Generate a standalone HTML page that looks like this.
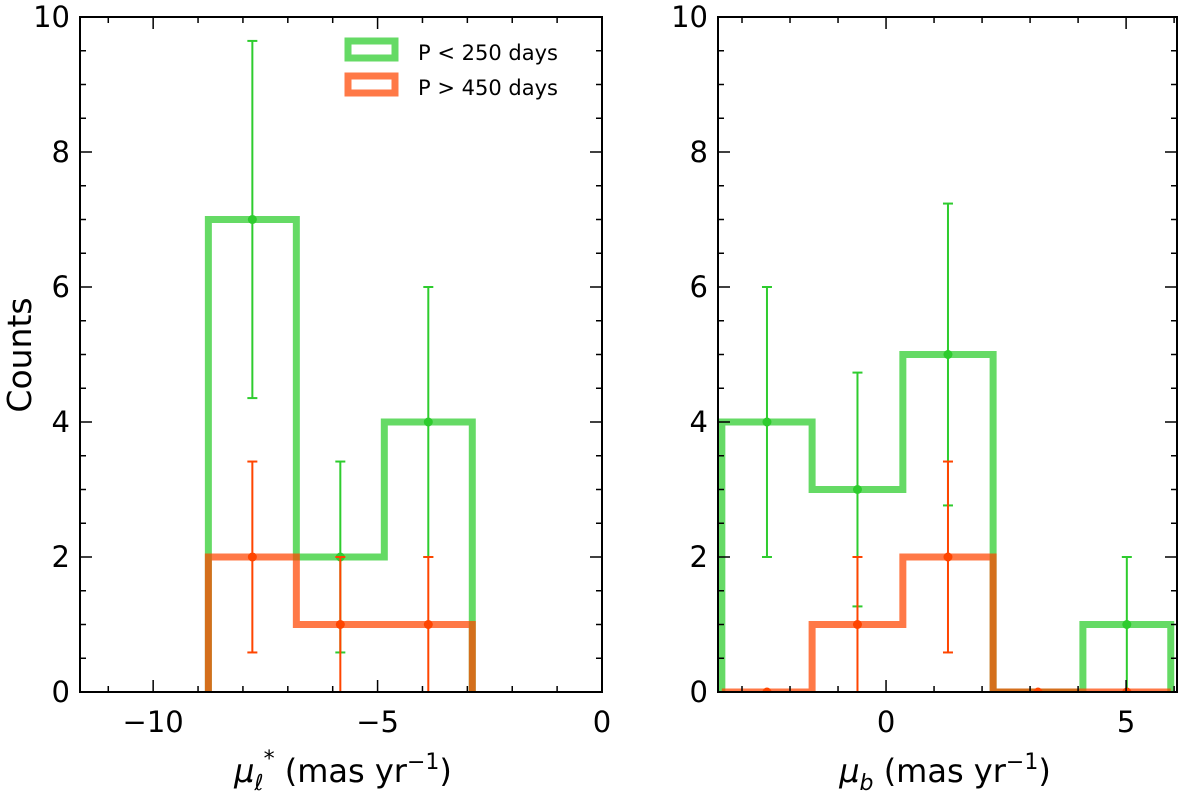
<!DOCTYPE html>
<html><head><meta charset="utf-8">
<style>
html,body{margin:0;padding:0;background:#fff;}
svg{display:block;font-family:"DejaVu Sans","Liberation Sans",sans-serif;}
</style></head>
<body>
<svg id="chart" width="1200" height="799"></svg>
<script>
// Left panel data
const leftEdges = [-8.77, -6.81, -4.85, -2.89];
const leftGreen = [7, 2, 4];
const leftOrange = [2, 1, 1];
const leftXTicks = [-10, -5, 0];
// Right panel data
const rightEdges = [-3.42, -1.54, 0.35, 2.23, 4.1, 5.93];
const rightGreen = [4, 3, 5, 0, 1];
const rightOrange = [0, 1, 2, 0, 0];
const rightXTicks = [0, 5];
const yTicks = [0, 2, 4, 6, 8, 10];

const NS = "http://www.w3.org/2000/svg";
const svg = document.getElementById("chart");
function mk(tag, attrs, parent) {
  const e = document.createElementNS(NS, tag);
  for (const k in attrs) e.setAttribute(k, attrs[k]);
  (parent || svg).appendChild(e);
  return e;
}
const GREEN = "rgba(50,205,50,0.75)", ORANGE = "rgba(255,69,0,0.72)";
const GERR = "#2ecc2e", OERR = "#ff4500";

function panel(name, px0, px1, xmin, xmax, edges, green, orange, xticks, minorStep, xlabelHTML, xlabelX) {
  const py0 = 17, py1 = 692;
  const g = mk("g", {});
  
  
  const sx = v => px0 + (v - xmin) / (xmax - xmin) * (px1 - px0);
  const sy = v => py1 - v / 10 * (py1 - py0);
  const clipId = name + "-clip";
  const cp = mk("clipPath", {id: clipId}, g);
  mk("rect", {x: px0, y: py0, width: px1 - px0, height: py1 - py0}, cp);
  const plot = mk("g", {"clip-path": "url(#" + clipId + ")"}, g);
  function step(vals, color, nm) {
    let d = "M" + sx(edges[0]) + "," + sy(0);
    for (let i = 0; i < vals.length; i++) {
      d += " L" + sx(edges[i]) + "," + sy(vals[i]) + " L" + sx(edges[i + 1]) + "," + sy(vals[i]);
    }
    d += " L" + sx(edges[vals.length]) + "," + sy(0);
    const p = mk("path", {d: d, fill: "none", stroke: color, "stroke-width": 7, "stroke-linejoin": "miter"}, plot);
    
    
  }
  step(green, GREEN, "green-histogram");
  step(orange, ORANGE, "orange-histogram");
  function errs(vals, color, nm, skipZero) {
    for (let i = 0; i < vals.length; i++) {
      const v = vals[i];
      if (skipZero && v === 0) continue;
      const c = (edges[i] + edges[i + 1]) / 2, x = sx(c);
      const e = Math.sqrt(v);
      const eg = mk("g", {}, plot);
      
      
      if (v > 0) {
        mk("line", {x1: x, x2: x, y1: sy(v + e), y2: sy(v - e), stroke: color, "stroke-width": 2}, eg);
        mk("line", {x1: x - 5, x2: x + 5, y1: sy(v + e), y2: sy(v + e), stroke: color, "stroke-width": 2}, eg);
        mk("line", {x1: x - 5, x2: x + 5, y1: sy(v - e), y2: sy(v - e), stroke: color, "stroke-width": 2}, eg);
      }
      mk("circle", {cx: x, cy: sy(v), r: 4.5, fill: color}, eg);
    }
  }
  errs(green, GERR, "green-errorbar", true);
  errs(orange, OERR, "orange-errorbar", false);
  for (let v = Math.ceil(xmin / minorStep) * minorStep; v <= xmax + 1e-9; v += minorStep) {
    const x = sx(v), major = xticks.some(t => Math.abs(t - v) < 1e-6);
    const L = major ? 12 : 6;
    mk("line", {x1: x, x2: x, y1: py1, y2: py1 - L, stroke: "#000", "stroke-width": 1.5}, g);
    mk("line", {x1: x, x2: x, y1: py0, y2: py0 + L, stroke: "#000", "stroke-width": 1.5}, g);
  }
  xticks.forEach(t => {
    const tl = mk("text", {x: sx(t), y: 732, "font-size": 29, "text-anchor": "middle"}, g);
    tl.textContent = t < 0 ? "\u2212" + Math.abs(t) : String(t);
    
    
  });
  for (let v = 0; v <= 10.001; v += 0.5) {
    const y = sy(v), major = Math.abs(v % 2) < 1e-6;
    const L = major ? 12 : 6;
    mk("line", {x1: px0, x2: px0 + L, y1: y, y2: y, stroke: "#000", "stroke-width": 1.5}, g);
    mk("line", {x1: px1, x2: px1 - L, y1: y, y2: y, stroke: "#000", "stroke-width": 1.5}, g);
  }
  yTicks.forEach(t => {
    const tl = mk("text", {x: px0 - 10, y: sy(t) + 10, "font-size": 29, "text-anchor": "end"}, g);
    tl.textContent = String(t);
    
    
  });
  mk("rect", {x: px0, y: py0, width: px1 - px0, height: py1 - py0, fill: "none", stroke: "#000", "stroke-width": 2}, g);
  const xl = mk("text", {x: xlabelX, y: 782, "font-size": 32, "text-anchor": "middle"}, g);
  xl.innerHTML = xlabelHTML;
  
  
  return {sx, sy};
}

panel("left-panel", 80, 602, -11.63, 0, leftEdges, leftGreen, leftOrange, leftXTicks, 1,
  '<tspan font-style="italic">μ</tspan><tspan font-style="italic" font-size="22" dy="8">ℓ</tspan><tspan font-size="22" dy="-24">*</tspan><tspan dy="16"> (mas yr</tspan><tspan font-size="22" dy="-13">−1</tspan><tspan dy="13">)</tspan>', 343);
panel("right-panel", 718, 1177, -3.5, 6.06, rightEdges, rightGreen, rightOrange, rightXTicks, 1,
  '<tspan font-style="italic">μ</tspan><tspan font-style="italic" font-size="22" dy="8">b</tspan><tspan dy="-8"> (mas yr</tspan><tspan font-size="22" dy="-13">−1</tspan><tspan dy="13">)</tspan>', 945);

const yl = mk("text", {x: 0, y: 0, "font-size": 33, "text-anchor": "middle", transform: "translate(31,355) rotate(-90)"});
yl.textContent = "Counts";



const lg = mk("g", {});


const le1 = mk("g", {}, lg);


mk("rect", {x: 348, y: 41, width: 47, height: 17, fill: "none", stroke: GREEN, "stroke-width": 7}, le1);
const t1 = mk("text", {x: 418, y: 60, "font-size": 21}, le1);
t1.textContent = "P < 250 days";
const le2 = mk("g", {}, lg);


mk("rect", {x: 348, y: 76, width: 47, height: 17, fill: "none", stroke: ORANGE, "stroke-width": 7}, le2);
const t2 = mk("text", {x: 418, y: 95, "font-size": 21}, le2);
t2.textContent = "P > 450 days";
</script>
</body></html>
